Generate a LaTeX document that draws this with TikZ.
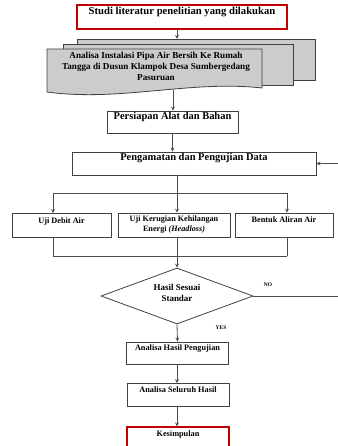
\documentclass[tikz,border=0pt]{standalone}
\usepackage{fontspec}
\setmainfont{Liberation Serif}
\usetikzlibrary{shapes.geometric}

\newcommand{\fsz}[1]{\bfseries\fontsize{#1}{#1}\selectfont}

\begin{document}
\begin{tikzpicture}[x=1bp, y=-1bp,
  box/.style={draw=black!75, line width=0.8pt, fill=white, inner sep=0pt,
    font=\fsz{8.3}, text height=6bp, text depth=11bp},
  redbox/.style={box, draw=red!75!black, line width=1.2pt},
  sheet/.style={draw=black!75, line width=0.8pt, fill=black!20},
  line/.style={draw=black!70, line width=0.8pt},
  arrow/.style={line, -stealth},
  tag/.style={font=\fsz{5.5}}]
  \useasboundingbox (0,0) rectangle (337,446);

  % Start: literature study
  \node[redbox, minimum width=210bp, minimum height=24bp, font=\fsz{10.7}] (lit) at (182,17) {Studi literatur penelitian yang dilakukan};

  % Stacked document (three sheets, front one with wavy bottom)
  \draw[sheet] (77,39) rectangle (315,80);
  \draw[sheet] (63,44) rectangle (293,85);
  \draw[sheet] (47,49) -- (262,49) -- (262,88) .. controls (190,80) and (120,102) .. (47,92) -- cycle;
  \node[align=center, font=\bfseries\fontsize{9.2}{11}\selectfont] (objek) at (156,66)
    {Analisa Instalasi Pipa Air Bersih Ke Rumah\\Tangga di Dusun Klampok Desa Sumbergedang\\Pasuruan};
  \coordinate (doctop) at (177,39);
  \coordinate (docbot) at (173,90);

  % Preparation and observation
  \node[box, minimum width=131bp, minimum height=22bp, font=\fsz{10.5}] (alat) at (172.5,122) {Persiapan Alat dan Bahan};
  \node[box, minimum width=244bp, minimum height=23bp, font=\fsz{10.5}] (data) at (194,163.5) {Pengamatan dan Pengujian Data};

  % Three tests
  \node[box, minimum width=99bp, minimum height=24bp] (debit) at (61.5,225.5) {Uji Debit Air};
  \node[box, minimum width=112bp, minimum height=24bp, align=center, font=\bfseries\fontsize{8.2}{10}\selectfont,
    text height=16bp, text depth=3bp] (rugi) at (174,225) {Uji Kerugian Kehilangan\\Energi \textit{(Headloss)}};
  \node[box, minimum width=98bp, minimum height=24bp] (aliran) at (284,225) {Bentuk Aliran Air};

  % Split and join points
  \coordinate (k1) at (53,193);
  \coordinate (k2) at (177,193);
  \coordinate (k3) at (287,193);
  \coordinate (j1) at (53,256);
  \coordinate (j2) at (177,256);
  \coordinate (j3) at (287,256);

  % Decision
  \node[draw=black!75, line width=0.8pt, diamond, aspect=2.7, minimum width=152bp, minimum height=56bp,
    inner sep=0pt, align=center, text depth=6bp, font=\bfseries\fontsize{9}{10.5}\selectfont] (hasil) at (177,296) {Hasil Sesuai\\Standar};
  \node[tag] (no) at (268,285) {NO};
  \node[tag] (yes) at (221,328) {YES};
  \coordinate (balik) at (350,0);

  % Analysis and conclusion
  \node[box, minimum width=102bp, minimum height=22bp] (uji) at (177.5,353) {Analisa Hasil Pengujian};
  \node[box, minimum width=102bp, minimum height=23bp] (seluruh) at (178,395) {Analisa Seluruh Hasil};
  \node[redbox, minimum width=102bp, minimum height=24bp] (simpul) at (178,439) {Kesimpulan};

  % Connectors
  \draw[arrow] (lit.south -| doctop) -- (doctop);
  \draw[arrow] (docbot) -- (docbot |- alat.north);
  \draw[arrow] (alat.south) -- (alat.south |- data.north);
  \draw[line] (data.south -| k2) -- (k2);
  \draw[line] (k1) -- (k3);
  \foreach \k/\b in {k1/debit, k2/rugi, k3/aliran} {
    \draw[arrow] (\k) -- (\k |- \b.north);
  }
  \foreach \j/\b in {j1/debit, j2/rugi, j3/aliran} {
    \draw[line] (\j |- \b.south) -- (\j);
  }
  \draw[line] (j1) -- (j3);
  \draw[arrow] (j2) -- (hasil.north);
  \draw[arrow] (hasil.east) -- (hasil.east -| balik) |- (data.east);
  \draw[arrow] (hasil.south) -- (uji.north);
  \draw[arrow] (uji.south -| hasil) -- (seluruh.north -| hasil);
  \draw[arrow] (seluruh.south -| hasil) -- (simpul.north -| hasil);
\end{tikzpicture}
\end{document}
